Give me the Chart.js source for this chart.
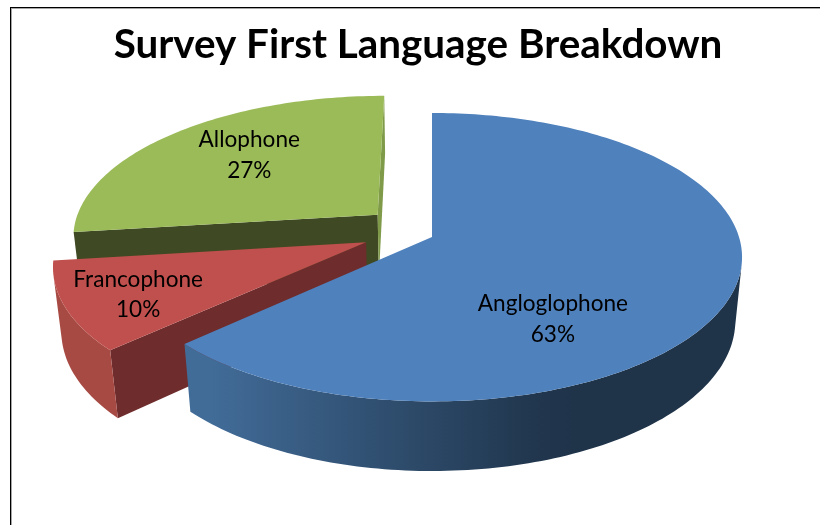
<!DOCTYPE html>
<html>
<head>
<meta charset="utf-8">
<title>Survey First Language Breakdown</title>
<script src="https://cdn.jsdelivr.net/npm/chart.js@4"></script>
<style>
  html, body { margin: 0; padding: 0; background: #fff; }
  #wrap { position: relative; width: 820px; height: 525px; overflow: hidden; }
  #wrap::before { content: ""; position: absolute; left: 10px; top: 7px; right: -4px; bottom: -4px; border-left: 1px solid #000; border-top: 1px solid #000; box-shadow: inset 1px 1px 0 rgba(0,0,0,.35); }
  canvas { position: absolute; left: 0; top: 0; }
</style>
</head>
<body>
<div id="wrap"><canvas id="chart" width="820" height="525"></canvas></div>
<script>
const categories = ['Angloglophone', 'Francophone', 'Allophone'];
const shares = [63, 10, 27];
const faceColors = ['#4F81BD', '#C0504D', '#9BBB59'];

// wall colours per slice: rim lit, rim shaded, cut at start angle, cut at end angle
const wallLit = ['#44719F', '#A84A44', '#7F9A48'];
const wallDark = ['#1F3349', '#A04540', '#5F7536'];
const cutStart = ['#2F4F78', '#6E2C2C', '#3F4923'];
const cutEnd = ['#2F4F78', '#6E2C2C', '#7F9A48'];
// extra shift in the pie plane, the chart engine explodes only along the mid angle
const planeNudge = [[0, 0], [-0.006, 0.033], [0.009, -0.04]];
// label placement relative to the slice's mid radius, in px
const labelShift = [[-24, 53], [-82, 21], [-23, -17]];

// camera used to lay the flat pie down
const cam = { x: 432, y: 237, rx: 307, ry: 141.4, persp: 0.14, height: 65, shrink: 0.022 };

function project(u, v, h) {
  const w = 1 - cam.persp * v + cam.shrink * h;
  return { x: cam.x + cam.rx * u / w, y: cam.y + (cam.ry * v + cam.height * h) / w };
}

function mix(a, b, t) {
  const pa = parseInt(a.slice(1), 16), pb = parseInt(b.slice(1), 16);
  const ch = s => Math.round(((pa >> s) & 255) * (1 - t) + ((pb >> s) & 255) * t);
  return `rgb(${ch(16)},${ch(8)},${ch(0)})`;
}

function fillPath(ctx, pts, color) {
  ctx.beginPath();
  pts.forEach((p, i) => i ? ctx.lineTo(p.x, p.y) : ctx.moveTo(p.x, p.y));
  ctx.closePath();
  ctx.fillStyle = color;
  ctx.fill();
}

function area(pts) {
  let s = 0;
  pts.forEach((p, i) => {
    const q = pts[(i + 1) % pts.length];
    s += p.x * q.y - q.x * p.y;
  });
  return s;
}

function facing(p, q) {
  return area([project(p.u, p.v, 0), project(q.u, q.v, 0), project(q.u, q.v, 1), project(p.u, p.v, 1)]) < 0;
}

// apex of a slice in pie-plane units, first slice's apex sits on the camera axis
function sliceApex(arc, i, first) {
  const e = arc.options.offset / arc.outerRadius;
  const mid = (arc.startAngle + arc.endAngle) / 2;
  const mid0 = (first.startAngle + first.endAngle) / 2;
  return {
    u: e * (Math.cos(mid) - Math.cos(mid0)) + planeNudge[i][0],
    v: e * (Math.sin(mid) - Math.sin(mid0)) + planeNudge[i][1]
  };
}

// curved outer wall as one shape with a sideways gradient
function drawRim(ctx, rim, i) {
  const run = rim.filter((p, n) => (rim[n + 1] && facing(p, rim[n + 1])) || (rim[n - 1] && facing(rim[n - 1], p)));
  if (run.length < 2) return;
  const tops = run.map(p => project(p.u, p.v, 0));
  const bottoms = run.map(p => project(p.u, p.v, 1));
  const xs = tops.concat(bottoms).map(p => p.x);
  const left = Math.min(...xs), right = Math.max(...xs);
  const grad = ctx.createLinearGradient(left, 0, right, 0);
  run.forEach((p, n) => {
    if (n % 8) return;
    const t = Math.min(1, Math.max(0, (0.35 - Math.cos(p.a)) / 1.08));
    grad.addColorStop((tops[n].x - left) / (right - left), mix(wallDark[i], wallLit[i], t));
  });
  fillPath(ctx, tops.concat(bottoms.reverse()), grad);
}

const pie3d = {
  id: 'pie3d',
  // the flat arcs are replaced by the extruded version
  beforeDatasetsDraw(chart) {
    const ctx = chart.ctx;
    const arcs = chart.getDatasetMeta(0).data;
    ctx.save();
    [2, 1, 0].forEach(i => {
      const arc = arcs[i];
      const apex = sliceApex(arc, i, arcs[0]);
      const steps = Math.ceil((arc.endAngle - arc.startAngle) / 0.02);
      const rim = [];
      for (let s = 0; s <= steps; s++) {
        const a = arc.startAngle + (arc.endAngle - arc.startAngle) * s / steps;
        rim.push({ u: apex.u + Math.cos(a), v: apex.v + Math.sin(a), a });
      }
      const first = rim[0], last = rim[rim.length - 1];
      // flat cut faces, only the ones turned to the viewer
      [[apex, first, cutStart[i]], [last, apex, cutEnd[i]]].forEach(([p, q, color]) => {
        if (!facing(p, q)) return;
        fillPath(ctx, [project(p.u, p.v, 0), project(q.u, q.v, 0), project(q.u, q.v, 1), project(p.u, p.v, 1)], color);
      });
      drawRim(ctx, rim, i);
      fillPath(ctx, [apex].concat(rim).map(p => project(p.u, p.v, 0)), faceColors[i]);
    });

    // slice labels
    ctx.fillStyle = '#000';
    ctx.font = '22.6px Lato';
    ctx.textAlign = 'center';
    ctx.textBaseline = 'middle';
    arcs.forEach((arc, i) => {
      const apex = sliceApex(arc, i, arcs[0]);
      const mid = (arc.startAngle + arc.endAngle) / 2;
      const p = project(apex.u + Math.cos(mid) * 0.5, apex.v + Math.sin(mid) * 0.5, 0);
      const x = p.x + labelShift[i][0], y = p.y + labelShift[i][1];
      ctx.fillText(categories[i], x, y - 15);
      ctx.fillText(shares[i] + '%', x, y + 15.5);
    });
    ctx.restore();
    return false;
  }
};

new Chart(document.getElementById('chart').getContext('2d'), {
  type: 'pie',
  data: {
    labels: categories,
    datasets: [{ data: shares, backgroundColor: faceColors, offset: 24, borderWidth: 0 }]
  },
  options: {
    responsive: false,
    animation: false,
    layout: { padding: { left: 16, top: 21 } },
    plugins: {
      legend: { display: false },
      tooltip: { enabled: false },
      title: {
        display: true,
        text: 'Survey First Language Breakdown',
        color: '#000',
        font: { family: 'Lato', size: 40.4, weight: 'bold' },
        padding: { top: 0, bottom: 10 }
      }
    }
  },
  plugins: [pie3d]
});
</script>
</body>
</html>
